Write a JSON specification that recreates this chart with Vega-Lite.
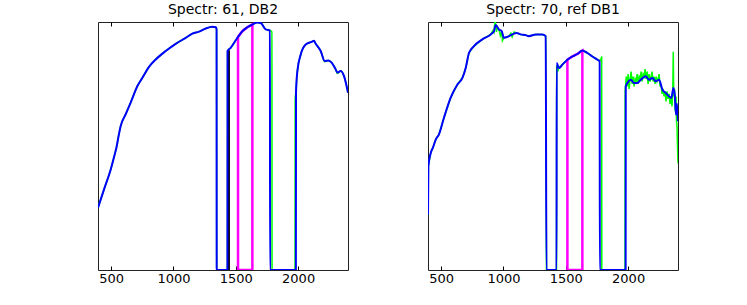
{
"$schema": "https://vega.github.io/schema/vega-lite/v6.json",
"padding": {"left": 97, "top": 2, "right": 0, "bottom": 0},
"autosize": {"type": "pad"},
"bounds": "flush",
"config": {
  "view": {"stroke": "#222", "strokeWidth": 1},
  "concat": {"spacing": 80},
  "title": {"font": "DejaVu Sans", "fontSize": 14, "fontWeight": "normal", "color": "#000", "offset": 5},
  "axis": {"labelFont": "DejaVu Sans", "labelFontSize": 13, "labelColor": "#000", "tickColor": "#000", "domain": false, "grid": false, "title": null, "format": "d"}
},
"datasets": {
 "L": [
  {"s":"g","x":395,"y":25.1},{"s":"g","x":446,"y":32.9},{"s":"g","x":497,"y":40.5},{"s":"g","x":529,"y":46.6},{"s":"g","x":543,"y":49.4},{"s":"g","x":560,"y":54.0},{"s":"g","x":577,"y":58.1},{"s":"g","x":617,"y":62.8},{"s":"g","x":657,"y":67.5},{"s":"g","x":711,"y":74.2},{"s":"g","x":751,"y":77.5},{"s":"g","x":804,"y":81.9},{"s":"g","x":858,"y":84.9},{"s":"g","x":938,"y":88.3},{"s":"g","x":1018,"y":91.2},{"s":"g","x":1098,"y":93.6},{"s":"g","x":1152,"y":95.3},{"s":"g","x":1205,"y":96.1},{"s":"g","x":1259,"y":97.4},{"s":"g","x":1312,"y":98.1},{"s":"g","x":1339,"y":97.9},{"s":"g","x":1346,"y":97.2},{"s":"g","x":1347,"y":0},{"s":"g","x":1433,"y":0},{"s":"g","x":1434,"y":88.3},{"s":"g","x":1459,"y":89.6},{"s":"g","x":1518,"y":94.0},{"s":"g","x":1553,"y":96.3},{"s":"g","x":1593,"y":97.9},{"s":"g","x":1633,"y":99.0},{"s":"g","x":1673,"y":99.8},{"s":"g","x":1700,"y":99.6},{"s":"g","x":1740,"y":97.0},{"s":"g","x":1774,"y":96.6},{"s":"g","x":1790,"y":96.0},{"s":"g","x":1791,"y":0},{"s":"g","x":1975,"y":0},{"s":"g","x":1976,"y":68.3},{"s":"g","x":1983,"y":72.5},{"s":"g","x":1994,"y":80.2},{"s":"g","x":2021,"y":86.9},{"s":"g","x":2061,"y":90.9},{"s":"g","x":2109,"y":92.0},{"s":"g","x":2127,"y":92.4},{"s":"g","x":2141,"y":91.2},{"s":"g","x":2181,"y":88.3},{"s":"g","x":2213,"y":84.0},{"s":"g","x":2243,"y":84.5},{"s":"g","x":2269,"y":83.6},{"s":"g","x":2301,"y":80.9},{"s":"g","x":2315,"y":79.2},{"s":"g","x":2341,"y":80.2},{"s":"g","x":2368,"y":78.2},{"s":"g","x":2400,"y":71.5},
  {"s":"k","x":1443,"y":0},{"s":"k","x":1443,"y":88.6},
  {"s":"m","x":1518,"y":0},{"s":"m","x":1518,"y":94.0},{"s":"m","x":1553,"y":96.3},{"s":"m","x":1593,"y":97.9},{"s":"m","x":1633,"y":99.0},{"s":"m","x":1633,"y":0},{"s":"m","x":1518,"y":0},
  {"s":"b","x":395,"y":25.1},{"s":"b","x":446,"y":32.9},{"s":"b","x":497,"y":40.5},{"s":"b","x":529,"y":46.6},{"s":"b","x":543,"y":49.4},{"s":"b","x":560,"y":54.0},{"s":"b","x":577,"y":58.1},{"s":"b","x":617,"y":62.8},{"s":"b","x":657,"y":67.5},{"s":"b","x":711,"y":74.2},{"s":"b","x":751,"y":77.5},{"s":"b","x":804,"y":81.9},{"s":"b","x":858,"y":84.9},{"s":"b","x":938,"y":88.3},{"s":"b","x":1018,"y":91.2},{"s":"b","x":1098,"y":93.6},{"s":"b","x":1152,"y":95.3},{"s":"b","x":1205,"y":96.1},{"s":"b","x":1259,"y":97.4},{"s":"b","x":1312,"y":98.1},{"s":"b","x":1339,"y":97.9},{"s":"b","x":1346,"y":97.2},{"s":"b","x":1347,"y":0},{"s":"b","x":1433,"y":0},{"s":"b","x":1434,"y":88.3},{"s":"b","x":1459,"y":89.6},{"s":"b","x":1518,"y":94.0},{"s":"b","x":1553,"y":96.3},{"s":"b","x":1593,"y":97.9},{"s":"b","x":1633,"y":99.0},{"s":"b","x":1673,"y":99.8},{"s":"b","x":1700,"y":99.6},{"s":"b","x":1740,"y":97.0},{"s":"b","x":1774,"y":96.6},{"s":"b","x":1775,"y":0},{"s":"b","x":1982,"y":0},{"s":"b","x":1983,"y":71.5},{"s":"b","x":1994,"y":80.2},{"s":"b","x":2021,"y":86.9},{"s":"b","x":2061,"y":90.9},{"s":"b","x":2109,"y":92.0},{"s":"b","x":2127,"y":92.4},{"s":"b","x":2141,"y":91.2},{"s":"b","x":2181,"y":88.3},{"s":"b","x":2213,"y":84.3},{"s":"b","x":2243,"y":84.5},{"s":"b","x":2269,"y":83.6},{"s":"b","x":2301,"y":80.9},{"s":"b","x":2315,"y":79.6},{"s":"b","x":2341,"y":80.2},{"s":"b","x":2368,"y":78.2},{"s":"b","x":2400,"y":71.5}
 ],
 "R": [
  {"s":"g","x":395,"y":22.4},{"s":"g","x":397,"y":35},{"s":"g","x":398,"y":41.9},{"s":"g","x":417,"y":47.2},{"s":"g","x":435,"y":49.4},{"s":"g","x":457,"y":52.6},{"s":"g","x":483,"y":54.7},{"s":"g","x":523,"y":61.4},{"s":"g","x":577,"y":69.5},{"s":"g","x":631,"y":74.8},{"s":"g","x":671,"y":77.5},{"s":"g","x":698,"y":81.6},{"s":"g","x":724,"y":87.6},{"s":"g","x":764,"y":90.3},{"s":"g","x":831,"y":93.0},{"s":"g","x":898,"y":95.0},{"s":"g","x":915,"y":96.5},{"s":"g","x":924,"y":95.8},{"s":"g","x":932,"y":100.5},{"s":"g","x":938,"y":99},{"s":"g","x":944,"y":96},{"s":"g","x":952,"y":98},{"s":"g","x":964,"y":97.0},{"s":"g","x":975,"y":94.5},{"s":"g","x":986,"y":96.3},{"s":"g","x":992,"y":92.5},{"s":"g","x":1004,"y":93.6},{"s":"g","x":1045,"y":94.3},{"s":"g","x":1060,"y":95.5},{"s":"g","x":1070,"y":94},{"s":"g","x":1085,"y":96},{"s":"g","x":1104,"y":95.6},{"s":"g","x":1138,"y":95.0},{"s":"g","x":1178,"y":94.7},{"s":"g","x":1205,"y":94.3},{"s":"g","x":1259,"y":95.0},{"s":"g","x":1312,"y":95.0},{"s":"g","x":1339,"y":94.3},{"s":"g","x":1345,"y":0},{"s":"g","x":1426,"y":0},{"s":"g","x":1427,"y":82.5},{"s":"g","x":1435,"y":80},{"s":"g","x":1446,"y":81.8},{"s":"g","x":1473,"y":82.8},{"s":"g","x":1513,"y":84.8},{"s":"g","x":1553,"y":86.1},{"s":"g","x":1593,"y":87.1},{"s":"g","x":1633,"y":88.5},{"s":"g","x":1673,"y":87.5},{"s":"g","x":1713,"y":86.1},{"s":"g","x":1754,"y":84.8},{"s":"g","x":1780,"y":84.5},{"s":"g","x":1788,"y":86.1},{"s":"g","x":1789,"y":0},{"s":"g","x":1975,"y":0},{"s":"g","x":1976,"y":72},{"s":"g","x":1985,"y":78},{"s":"g","x":1992,"y":74},{"s":"g","x":2000,"y":79},{"s":"g","x":2008,"y":73},{"s":"g","x":2016,"y":77},{"s":"g","x":2024,"y":80},{"s":"g","x":2032,"y":75},{"s":"g","x":2040,"y":78},{"s":"g","x":2048,"y":74},{"s":"g","x":2056,"y":77},{"s":"g","x":2064,"y":76},{"s":"g","x":2072,"y":79},{"s":"g","x":2080,"y":75},{"s":"g","x":2088,"y":78},{"s":"g","x":2096,"y":77},{"s":"g","x":2104,"y":80},{"s":"g","x":2112,"y":76},{"s":"g","x":2120,"y":79},{"s":"g","x":2128,"y":78},{"s":"g","x":2136,"y":81},{"s":"g","x":2144,"y":77},{"s":"g","x":2152,"y":80},{"s":"g","x":2160,"y":75},{"s":"g","x":2168,"y":79},{"s":"g","x":2176,"y":76},{"s":"g","x":2184,"y":78},{"s":"g","x":2192,"y":80},{"s":"g","x":2200,"y":76},{"s":"g","x":2208,"y":78},{"s":"g","x":2216,"y":75},{"s":"g","x":2224,"y":78},{"s":"g","x":2232,"y":76},{"s":"g","x":2240,"y":77},{"s":"g","x":2248,"y":79},{"s":"g","x":2256,"y":74},{"s":"g","x":2264,"y":75},{"s":"g","x":2272,"y":71},{"s":"g","x":2280,"y":73},{"s":"g","x":2288,"y":70},{"s":"g","x":2296,"y":72},{"s":"g","x":2304,"y":68},{"s":"g","x":2312,"y":72},{"s":"g","x":2320,"y":69},{"s":"g","x":2328,"y":71},{"s":"g","x":2336,"y":67},{"s":"g","x":2344,"y":70},{"s":"g","x":2352,"y":66},{"s":"g","x":2358,"y":72},{"s":"g","x":2362,"y":88},{"s":"g","x":2366,"y":70},{"s":"g","x":2372,"y":73},{"s":"g","x":2378,"y":64},{"s":"g","x":2384,"y":70},{"s":"g","x":2388,"y":60},{"s":"g","x":2392,"y":58},{"s":"g","x":2396,"y":50},{"s":"g","x":2400,"y":43},
  {"s":"m","x":1513,"y":0},{"s":"m","x":1513,"y":84.8},{"s":"m","x":1553,"y":86.1},{"s":"m","x":1593,"y":87.1},{"s":"m","x":1633,"y":88.5},{"s":"m","x":1633,"y":0},{"s":"m","x":1513,"y":0},
  {"s":"b","x":395,"y":22.4},{"s":"b","x":398,"y":41.9},{"s":"b","x":417,"y":47.2},{"s":"b","x":435,"y":49.4},{"s":"b","x":457,"y":52.6},{"s":"b","x":483,"y":54.7},{"s":"b","x":523,"y":61.4},{"s":"b","x":577,"y":69.5},{"s":"b","x":631,"y":74.8},{"s":"b","x":671,"y":77.5},{"s":"b","x":698,"y":81.6},{"s":"b","x":724,"y":87.6},{"s":"b","x":764,"y":90.3},{"s":"b","x":831,"y":93.0},{"s":"b","x":898,"y":95.0},{"s":"b","x":924,"y":96.3},{"s":"b","x":938,"y":98.8},{"s":"b","x":964,"y":97.0},{"s":"b","x":986,"y":96.3},{"s":"b","x":1004,"y":93.6},{"s":"b","x":1045,"y":94.3},{"s":"b","x":1085,"y":95.3},{"s":"b","x":1104,"y":95.6},{"s":"b","x":1138,"y":95.0},{"s":"b","x":1178,"y":94.7},{"s":"b","x":1205,"y":94.3},{"s":"b","x":1259,"y":95.0},{"s":"b","x":1312,"y":95.0},{"s":"b","x":1339,"y":94.3},{"s":"b","x":1345,"y":0},{"s":"b","x":1426,"y":0},{"s":"b","x":1427,"y":83.5},{"s":"b","x":1446,"y":81.4},{"s":"b","x":1473,"y":82.8},{"s":"b","x":1513,"y":84.8},{"s":"b","x":1553,"y":86.1},{"s":"b","x":1593,"y":87.1},{"s":"b","x":1633,"y":88.5},{"s":"b","x":1673,"y":87.5},{"s":"b","x":1713,"y":86.1},{"s":"b","x":1754,"y":84.8},{"s":"b","x":1772,"y":84.1},{"s":"b","x":1773,"y":0},{"s":"b","x":1980,"y":0},{"s":"b","x":1981,"y":74.0},{"s":"b","x":1994,"y":75.4},{"s":"b","x":2021,"y":76.7},{"s":"b","x":2048,"y":75.4},{"s":"b","x":2074,"y":75.4},{"s":"b","x":2101,"y":76.7},{"s":"b","x":2141,"y":78.1},{"s":"b","x":2168,"y":76.7},{"s":"b","x":2195,"y":77.4},{"s":"b","x":2221,"y":76.1},{"s":"b","x":2248,"y":76.7},{"s":"b","x":2275,"y":72.7},{"s":"b","x":2302,"y":71.4},{"s":"b","x":2328,"y":70.0},{"s":"b","x":2347,"y":69.4},{"s":"b","x":2363,"y":73.4},{"s":"b","x":2374,"y":70.7},{"s":"b","x":2384,"y":62.7},{"s":"b","x":2392,"y":67},{"s":"b","x":2400,"y":60}
 ]
},
"hconcat": [
 {
  "data": {"name": "L"},
  "width": 250, "height": 248,
  "title": "Spectr: 61, DB2",
  "layer": [
   {
    "encoding": {
     "x": {"field": "x", "type": "quantitative", "scale": {"domain": [395, 2400], "nice": false, "zero": false}, "axis": {"orient": "bottom", "values": [500, 1000, 1500, 2000], "tickSize": -4, "labelPadding": 6}},
     "y": {"field": "y", "type": "quantitative", "scale": {"domain": [0, 100], "nice": false}, "axis": null},
     "order": {"value": null}
    },
    "layer": [
     {"transform": [{"filter": "datum.s === 'g'"}], "mark": {"type": "line", "color": "#00ff00", "strokeWidth": 1.5, "clip": true, "interpolate": "monotone"}},
     {"transform": [{"filter": "datum.s === 'k'"}], "mark": {"type": "line", "color": "#000000", "strokeWidth": 2.5, "clip": true}},
     {"transform": [{"filter": "datum.s === 'm'"}], "mark": {"type": "line", "color": "#ff00ff", "strokeWidth": 2.5, "clip": true}},
     {"transform": [{"filter": "datum.s === 'b'"}], "mark": {"type": "line", "color": "#0000ff", "strokeWidth": 2, "clip": true, "interpolate": "monotone"}}
    ]
   },
   {
    "mark": {"type": "point", "opacity": 0, "size": 0, "clip": true},
    "encoding": {
     "x": {"field": "x", "type": "quantitative", "scale": {"domain": [395, 2400], "nice": false, "zero": false}, "axis": {"orient": "top", "values": [500, 1000, 1500, 2000], "tickSize": -4, "labels": false}},
     "y": {"field": "y", "type": "quantitative", "scale": {"domain": [0, 100], "nice": false}, "axis": null}
    }
   }
  ],
  "resolve": {"axis": {"x": "independent"}}
 },
 {
  "data": {"name": "R"},
  "width": 250, "height": 248,
  "title": "Spectr: 70, ref DB1",
  "layer": [
   {
    "encoding": {
     "x": {"field": "x", "type": "quantitative", "scale": {"domain": [395, 2400], "nice": false, "zero": false}, "axis": {"orient": "bottom", "values": [500, 1000, 1500, 2000], "tickSize": -4, "labelPadding": 6}},
     "y": {"field": "y", "type": "quantitative", "scale": {"domain": [0, 100], "nice": false}, "axis": null},
     "order": {"value": null}
    },
    "layer": [
     {"transform": [{"filter": "datum.s === 'g'"}], "mark": {"type": "line", "color": "#00ff00", "strokeWidth": 1.5, "clip": true}},
     {"transform": [{"filter": "datum.s === 'm'"}], "mark": {"type": "line", "color": "#ff00ff", "strokeWidth": 2.5, "clip": true}},
     {"transform": [{"filter": "datum.s === 'b'"}], "mark": {"type": "line", "color": "#0000ff", "strokeWidth": 2, "clip": true, "interpolate": "monotone"}}
    ]
   },
   {
    "mark": {"type": "point", "opacity": 0, "size": 0, "clip": true},
    "encoding": {
     "x": {"field": "x", "type": "quantitative", "scale": {"domain": [395, 2400], "nice": false, "zero": false}, "axis": {"orient": "top", "values": [500, 1000, 1500, 2000], "tickSize": -4, "labels": false}},
     "y": {"field": "y", "type": "quantitative", "scale": {"domain": [0, 100], "nice": false}, "axis": null}
    }
   }
  ],
  "resolve": {"axis": {"x": "independent"}}
 }
]
}
